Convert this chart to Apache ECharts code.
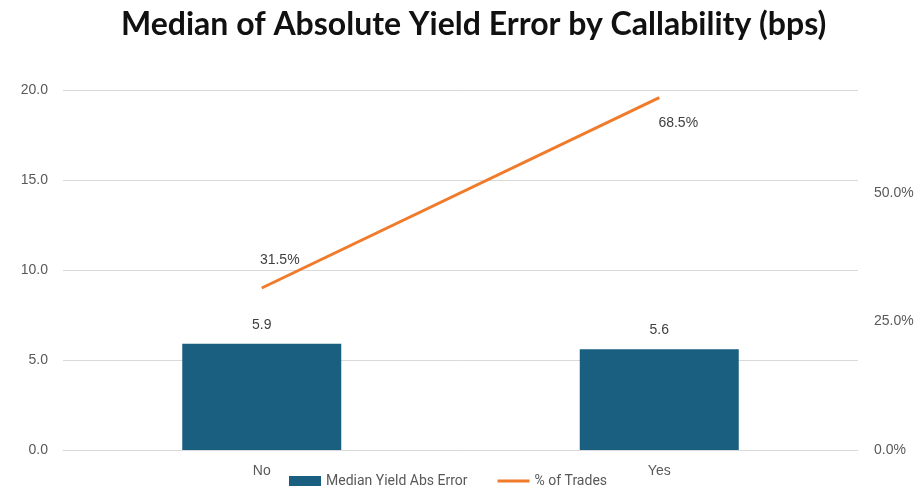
<!DOCTYPE html>
<html>
<head>
<meta charset="utf-8">
<script src="https://cdn.jsdelivr.net/npm/echarts@6/dist/echarts.min.js"></script>
<style>
  html, body { margin: 0; padding: 0; background: #fff; }
  #chart { width: 922px; height: 497px; }
</style>
</head>
<body>
<div id="chart"></div>
<script>
// 数据
var categories = ['No', 'Yes']
var yieldError = [5.9, 5.6]
var tradeShare = [31.5, 68.5]
var leftTicks = { min: 0, max: 20, interval: 5 }
var rightTicks = { min: 0, max: 70, interval: 25 }

var chart = echarts.init(document.getElementById('chart'))

chart.setOption({
  animation: false,
  title: {
    text: 'Median of Absolute Yield Error by Callability (bps)',
    left: 116,
    top: 4,
    textStyle: {
      fontFamily: 'Lato',
      fontWeight: 'bold',
      fontSize: 32,
      color: '#111'
    }
  },
  legend: {
    bottom: 4,
    left: 284,
    itemGap: 30,
    itemWidth: 32,
    itemHeight: 10,
    textStyle: { color: '#595959', fontSize: 14, fontFamily: 'Roboto' },
    data: [
      { name: 'Median Yield Abs Error', icon: 'rect' },
      { name: '% of Trades', icon: 'path://M0,0 L32,0 L32,3 L0,3 Z' }
    ]
  },
  grid: {
    left: 63,
    right: 64,
    top: 90,
    bottom: 47
  },
  xAxis: {
    type: 'category',
    data: categories,
    axisTick: { show: false },
    axisLine: { lineStyle: { color: '#d9d9d9' } },
    axisLabel: { color: '#595959', fontSize: 14, margin: 14 }
  },
  yAxis: [
    {
      type: 'value',
      min: leftTicks.min,
      max: leftTicks.max,
      interval: leftTicks.interval,
      axisLabel: {
        color: '#595959',
        fontSize: 14,
        margin: 15,
        formatter: function (v) { return v.toFixed(1) }
      },
      splitLine: { lineStyle: { color: '#d9d9d9' } }
    },
    {
      type: 'value',
      min: rightTicks.min,
      max: rightTicks.max,
      interval: rightTicks.interval,
      splitLine: { show: false },
      axisLabel: {
        color: '#595959',
        fontSize: 14,
        margin: 16,
        showMaxLabel: false,
        formatter: function (v) { return v.toFixed(1) + '%' }
      }
    }
  ],
  series: [
    {
      name: 'Median Yield Abs Error',
      type: 'bar',
      barWidth: '40%',
      yAxisIndex: 0,
      itemStyle: { color: '#1a5e80' },
      label: {
        show: true,
        position: 'top',
        distance: 12,
        color: '#404040',
        fontSize: 14,
        formatter: function (p) { return p.value.toFixed(1) }
      },
      data: yieldError
    },
    {
      name: '% of Trades',
      type: 'line',
      yAxisIndex: 1,
      symbol: 'circle',
      symbolSize: 0,
      lineStyle: { color: '#f07b2b', width: 3 },
      itemStyle: { color: '#f07b2b' },
      label: {
        show: true,
        color: '#404040',
        fontSize: 14,
        formatter: function (p) { return p.value.toFixed(1) + '%' }
      },
      data: tradeShare.map(function (v, i) {
        return {
          value: v,
          label: { position: 'inside', offset: i === 0 ? [18, -28] : [19, 25] }
        }
      })
    }
  ]
})
</script>
</body>
</html>
